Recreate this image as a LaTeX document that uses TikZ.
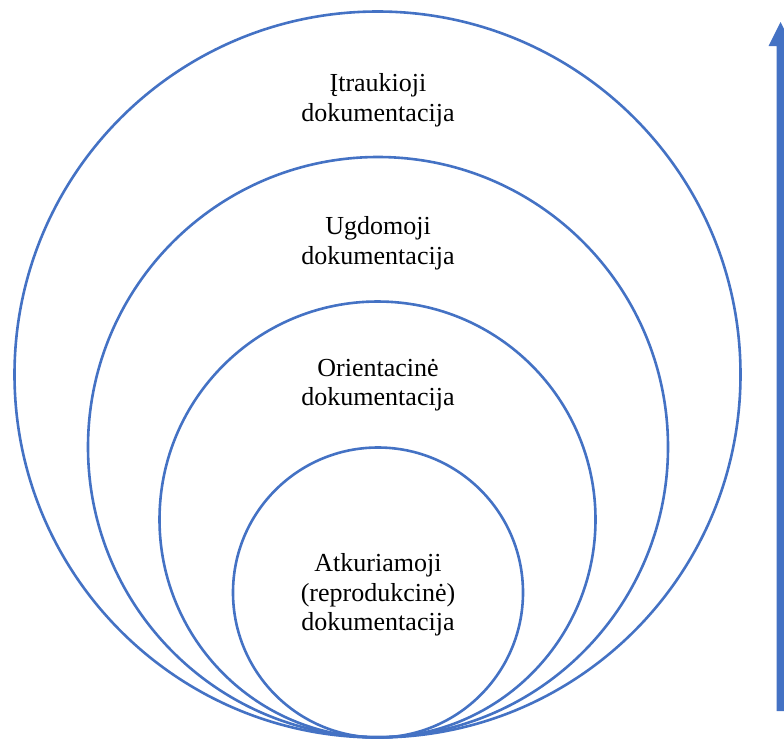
\documentclass[tikz,border=0pt]{standalone}
\usepackage{fontspec}
\setmainfont{Liberation Serif}
\definecolor{cblue}{HTML}{4472C4}
\begin{document}
\begin{tikzpicture}[x=1pt,y=-1pt,
  ring/.style={draw=cblue,line width=2.6pt,circle,inner sep=0pt},
  lbl/.style={align=center,font=\fontsize{26}{29.5}\selectfont,text=black}]
\useasboundingbox (0,0) rectangle (784,740);
\clip (0,0) rectangle (784,740);
\node[ring,minimum size=726] (c1) at (377.5,374.5) {};
\node[ring,minimum size=580] (c2) at (378,447) {};
\node[ring,minimum size=436] (c3) at (377.5,519.5) {};
\node[ring,minimum size=290] (c4) at (378,592.5) {};
\node[lbl] (t1) at (378,100) {Įtraukioji\\dokumentacija};
\node[lbl] (t2) at (378,243) {Ugdomoji\\dokumentacija};
\node[lbl] (t3) at (378,385) {Orientacinė\\dokumentacija};
\node[lbl] (t4) at (378,595) {Atkuriamoji\\(reprodukcinė)\\dokumentacija};
\coordinate (atop) at (780.5,22);
\fill[cblue] (776.5,711) -- (776.5,46) -- (768.5,46) -- (atop) -- (792.5,46) -- (784.5,46) -- (784.5,711) -- cycle;
\end{tikzpicture}
\end{document}
